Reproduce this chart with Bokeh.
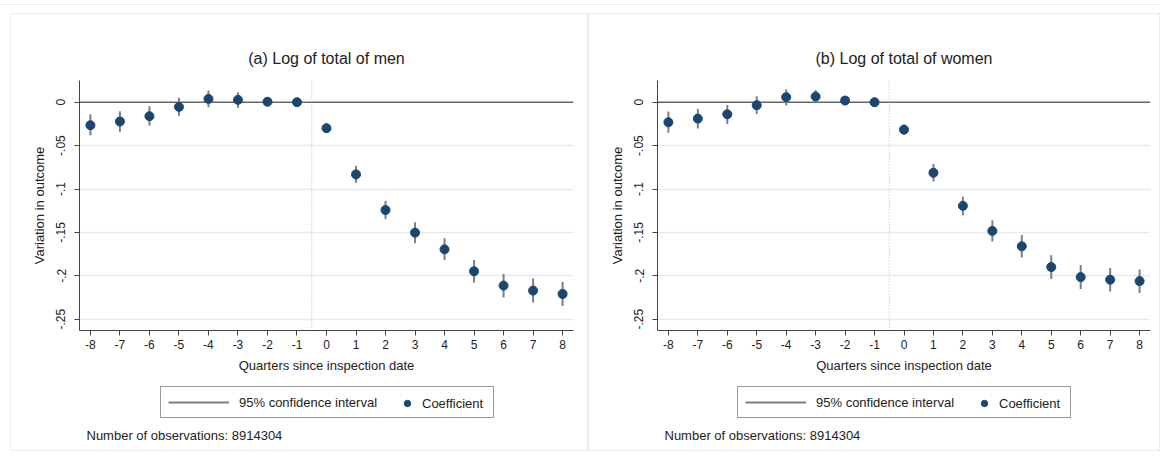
from bokeh.plotting import figure
from bokeh.models import Range1d, FixedTicker, Span, Legend, LegendItem, Label, Spacer
from bokeh.layouts import row, column
from bokeh.embed import file_html
from bokeh.resources import INLINE

quarters = [-8, -7, -6, -5, -4, -3, -2, -1, 0, 1, 2, 3, 4, 5, 6, 7, 8]
quarter_labels = ["-8", "-7", "-6", "-5", "-4", "-3", "-2", "-1", "0",
                  "1", "2", "3", "4", "5", "6", "7", "8"]

men_coef = [-0.0265, -0.0222, -0.0161, -0.0054, 0.0038, 0.0027, 0.0005, 0.0,
            -0.0299, -0.0832, -0.1242, -0.1503, -0.1695, -0.1948, -0.2113, -0.2170, -0.2209]
men_lo = [-0.0380, -0.0340, -0.0272, -0.0157, -0.0058, -0.0065, -0.0036, 0.0,
          -0.0349, -0.0928, -0.1346, -0.1626, -0.1817, -0.2078, -0.2251, -0.2308, -0.2347]
men_hi = [-0.0138, -0.0104, -0.0046, 0.0050, 0.0134, 0.0115, 0.0042, 0.0,
          -0.0245, -0.0736, -0.1135, -0.1384, -0.1568, -0.1817, -0.1975, -0.2032, -0.2071]

women_coef = [-0.0231, -0.0189, -0.0139, -0.0035, 0.0058, 0.0065, 0.0019, 0.0,
              -0.0316, -0.0813, -0.1194, -0.1483, -0.1660, -0.1899, -0.2015, -0.2045, -0.2061]
women_lo = [-0.0351, -0.0304, -0.0250, -0.0135, -0.0039, -0.0002, -0.0027, 0.0,
            -0.0374, -0.0913, -0.1302, -0.1606, -0.1789, -0.2038, -0.2153, -0.2180, -0.2199]
women_hi = [-0.0108, -0.0077, -0.0031, 0.0069, 0.0146, 0.0140, 0.0058, 0.0,
            -0.0258, -0.0713, -0.1090, -0.1360, -0.1531, -0.1763, -0.1876, -0.1910, -0.1926]

y_ticks = [0, -0.05, -0.1, -0.15, -0.2, -0.25]
y_tick_labels = ["0", "-.05", "-.1", "-.15", "-.2", "-.25"]

titles = ["(a) Log of total of men", "(b) Log of total of women"]
x_title = "Quarters since inspection date"
y_title = "Variation in outcome"
legend_labels = ["95% confidence interval", "Coefficient"]
note_text = "Number of observations: 8914304"

FONT = "Liberation Sans"
TXT = "#222222"
NAVY = "#1a476f"
CI_GRAY = "#7f7f7f"


def make_panel(title, coef, lo, hi, width, frame_width):
    left_b = 68
    top_b = 66
    frame_h = 250
    height = 364
    p = figure(width=width, height=height, output_backend="svg",
               toolbar_location=None,
               x_range=Range1d(-8.37, 8.37), y_range=Range1d(-0.263, 0.025),
               min_border_left=left_b, min_border_right=width - left_b - frame_width,
               min_border_top=top_b, min_border_bottom=height - top_b - frame_h)
    p.outline_line_color = None
    p.background_fill_color = "white"
    p.border_fill_color = "white"

    p.title.text = title
    p.title.align = "center"
    p.title.text_font = FONT
    p.title.text_font_size = "16px"
    p.title.text_font_style = "normal"
    p.title.text_color = TXT
    p.title.standoff = 28

    xa = p.xaxis[0]
    ya = p.yaxis[0]
    xa.ticker = FixedTicker(ticks=quarters)
    xa.major_label_overrides = {q: l for q, l in zip(quarters, quarter_labels)}
    ya.ticker = FixedTicker(ticks=y_ticks)
    ya.major_label_overrides = {t: l for t, l in zip(y_ticks, y_tick_labels)}
    ya.major_label_orientation = "parallel"
    for ax in (xa, ya):
        ax.axis_line_color = "#444444"
        ax.major_tick_line_color = "#444444"
        ax.major_tick_out = 5
        ax.major_tick_in = 0
        ax.minor_tick_line_color = None
        ax.major_label_text_font = FONT
        ax.major_label_text_font_size = "12px"
        ax.major_label_text_color = TXT
        ax.axis_label_text_font = FONT
        ax.axis_label_text_font_size = "13px"
        ax.axis_label_text_font_style = "normal"
        ax.axis_label_text_color = TXT
    xa.axis_label = x_title
    ya.axis_label = y_title
    xa.major_label_standoff = 4
    xa.axis_label_standoff = 6
    ya.major_label_standoff = 9
    ya.axis_label_standoff = 7

    p.xgrid.grid_line_color = None
    p.ygrid.ticker = FixedTicker(ticks=y_ticks[1:])
    p.ygrid.grid_line_color = "#e3ebee"
    p.ygrid.grid_line_width = 1.5

    p.add_layout(Span(location=0, dimension="width", line_color="#666666",
                      line_width=1.5, level="underlay"))
    p.add_layout(Span(location=-0.5, dimension="height", line_color="#b5b5b5",
                      line_width=1, line_dash="1 2", level="underlay"))

    p.segment(x0=quarters, y0=lo, x1=quarters, y1=hi,
              line_color=CI_GRAY, line_width=2)
    p.scatter(x=quarters, y=coef, size=9, fill_color=NAVY, line_color=NAVY)

    # legend + note strip (own canvas, frame aligned with the plot's frame;
    # its key renderers' data lie outside its ranges)
    lh = 72
    lf = figure(width=width, height=lh, output_backend="svg", toolbar_location=None,
                x_range=Range1d(100, 101), y_range=Range1d(100, 101),
                x_axis_location=None, y_axis_location=None,
                min_border_left=0, min_border_right=0, min_border_top=0,
                min_border_bottom=0)
    lf.grid.visible = False
    lf.outline_line_color = None
    lf.background_fill_color = "white"
    lf.border_fill_color = "white"
    seg_key = lf.segment(x0=quarters, y0=lo, x1=quarters, y1=hi,
                         line_color=CI_GRAY, line_width=2)
    dot_key = lf.scatter(x=quarters, y=coef, size=9, fill_color=NAVY, line_color=NAVY)

    box_w = 332
    box_left = (frame_width - box_w) // 2
    leg1 = Legend(items=[LegendItem(label=legend_labels[0], renderers=[seg_key])],
                  location=(box_left, 32), orientation="horizontal",
                  glyph_width=61, glyph_height=16, label_height=16,
                  label_width=247, label_standoff=10, padding=7, margin=0,
                  border_line_color="#333333", border_line_width=1,
                  background_fill_color="white", background_fill_alpha=1.0,
                  label_text_font=FONT, label_text_font_size="13px",
                  label_text_color=TXT)
    leg2 = Legend(items=[LegendItem(label=legend_labels[1], renderers=[dot_key])],
                  location=(box_left + 239, 39), orientation="horizontal",
                  glyph_width=16, glyph_height=16, label_height=16,
                  label_standoff=7, padding=0, margin=0,
                  border_line_color=None, background_fill_alpha=0.0,
                  label_text_font=FONT, label_text_font_size="13px",
                  label_text_color=TXT)
    lf.add_layout(leg1, "center")
    lf.add_layout(leg2, "center")
    lf.add_layout(Label(x=7, y=15, x_units="screen", y_units="screen",
                        text=note_text, text_font=FONT, text_font_size="13px",
                        text_color=TXT, text_baseline="middle"))

    return column(p, lf, styles={"border": "1px solid #ebebeb"})


c1 = make_panel(titles[0], men_coef, men_lo, men_hi, 576, 494)
c2 = make_panel(titles[1], women_coef, women_lo, women_hi, 570, 493)

layout = column(Spacer(height=4),
                Spacer(height=9, width=1160, styles={"border-top": "1px solid #f0f0f0"}),
                row(Spacer(width=10), c1, c2))

open("out.html", "w").write(file_html(layout, INLINE))
